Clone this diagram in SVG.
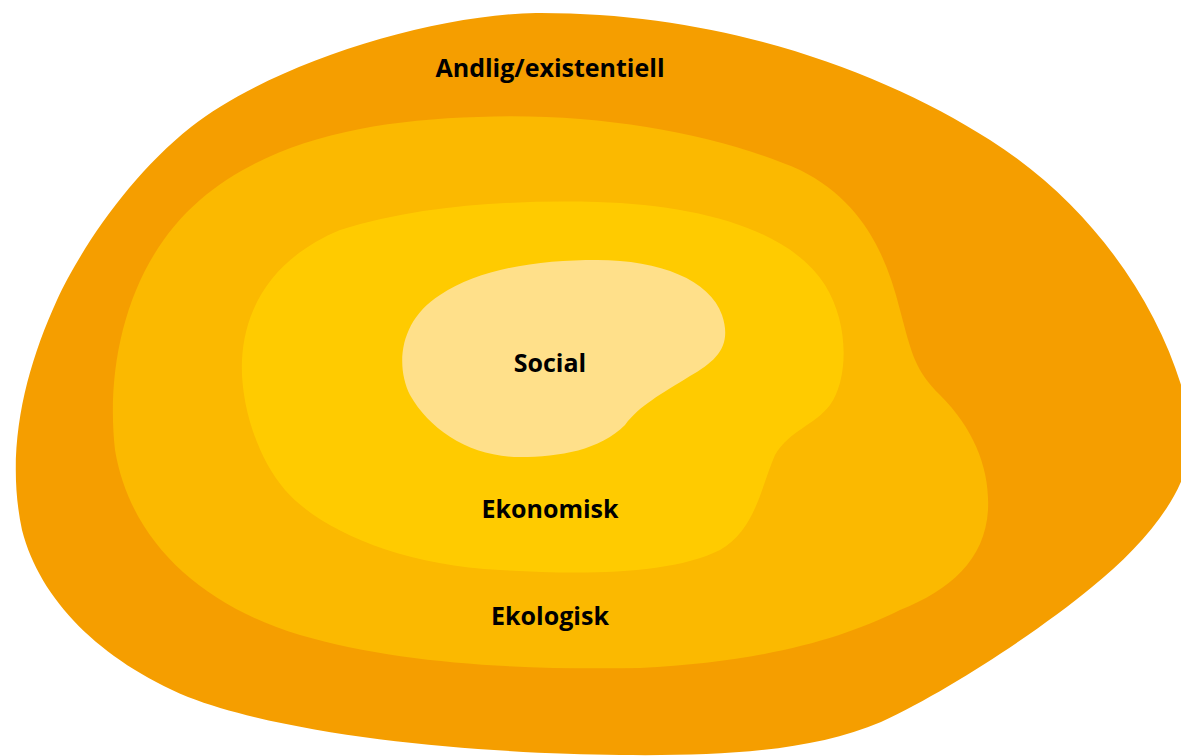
<svg xmlns="http://www.w3.org/2000/svg" width="1181" height="756" viewBox="0 0 1181 756">
<style>
.lbl{font-family:"Open Sans","Noto Sans","Liberation Sans",sans-serif;font-weight:700;font-size:25px;fill:#000;text-anchor:middle}
</style>
<rect width="1181" height="756" fill="#fff"/>
<g id="andlig">
<path fill="#F59E00" d="M536,13 C720,12 880,70 990,140 C1100,210 1170,320 1190,420 C1200,480 1150,540 1092,587 C1040,630 950,690 881,722 C810,752 720,756 620,755 C500,754 300,740 188,697 C100,660 40,600 22,530 C5,450 25,370 57,300 C80,250 130,175 191,127 C271,64 430,15 536,13 Z"/>
<text class="lbl" x="550" y="77">Andlig/existentiell</text>
</g>
<g id="ekologisk">
<path fill="#FBB900" d="M478,117 C600,112 720,135 800,170 C860,200 885,250 900,310 C912,355 915,370 940,395 C975,430 990,470 988,510 C985,560 950,590 900,610 C840,640 760,662 640,668 C520,670 400,664 300,635 C200,605 130,540 115,450 C105,360 130,260 200,200 C270,140 370,120 478,117 Z"/>
<text class="lbl" x="550" y="625">Ekologisk</text>
</g>
<g id="ekonomisk">
<path fill="#FFCB00" d="M597,202 C700,205 790,230 825,285 C850,325 848,380 830,405 C815,425 790,430 775,455 C760,490 755,530 720,550 C670,575 580,575 500,570 C400,565 320,530 285,490 C255,455 240,400 242,360 C245,300 280,255 340,230 C420,205 510,200 597,202 Z"/>
<text class="lbl" x="550" y="518">Ekonomisk</text>
</g>
<g id="social">
<path fill="#FFE08A" d="M597,260 C660,260 710,280 722,315 C732,345 718,360 690,376 C660,395 640,405 625,425 C600,450 560,457 520,457 C470,457 430,430 410,395 C395,365 400,320 440,295 C480,268 540,260 597,260 Z"/>
<text class="lbl" x="550" y="372">Social</text>
</g>
<g id="connectors"/>
</svg>
